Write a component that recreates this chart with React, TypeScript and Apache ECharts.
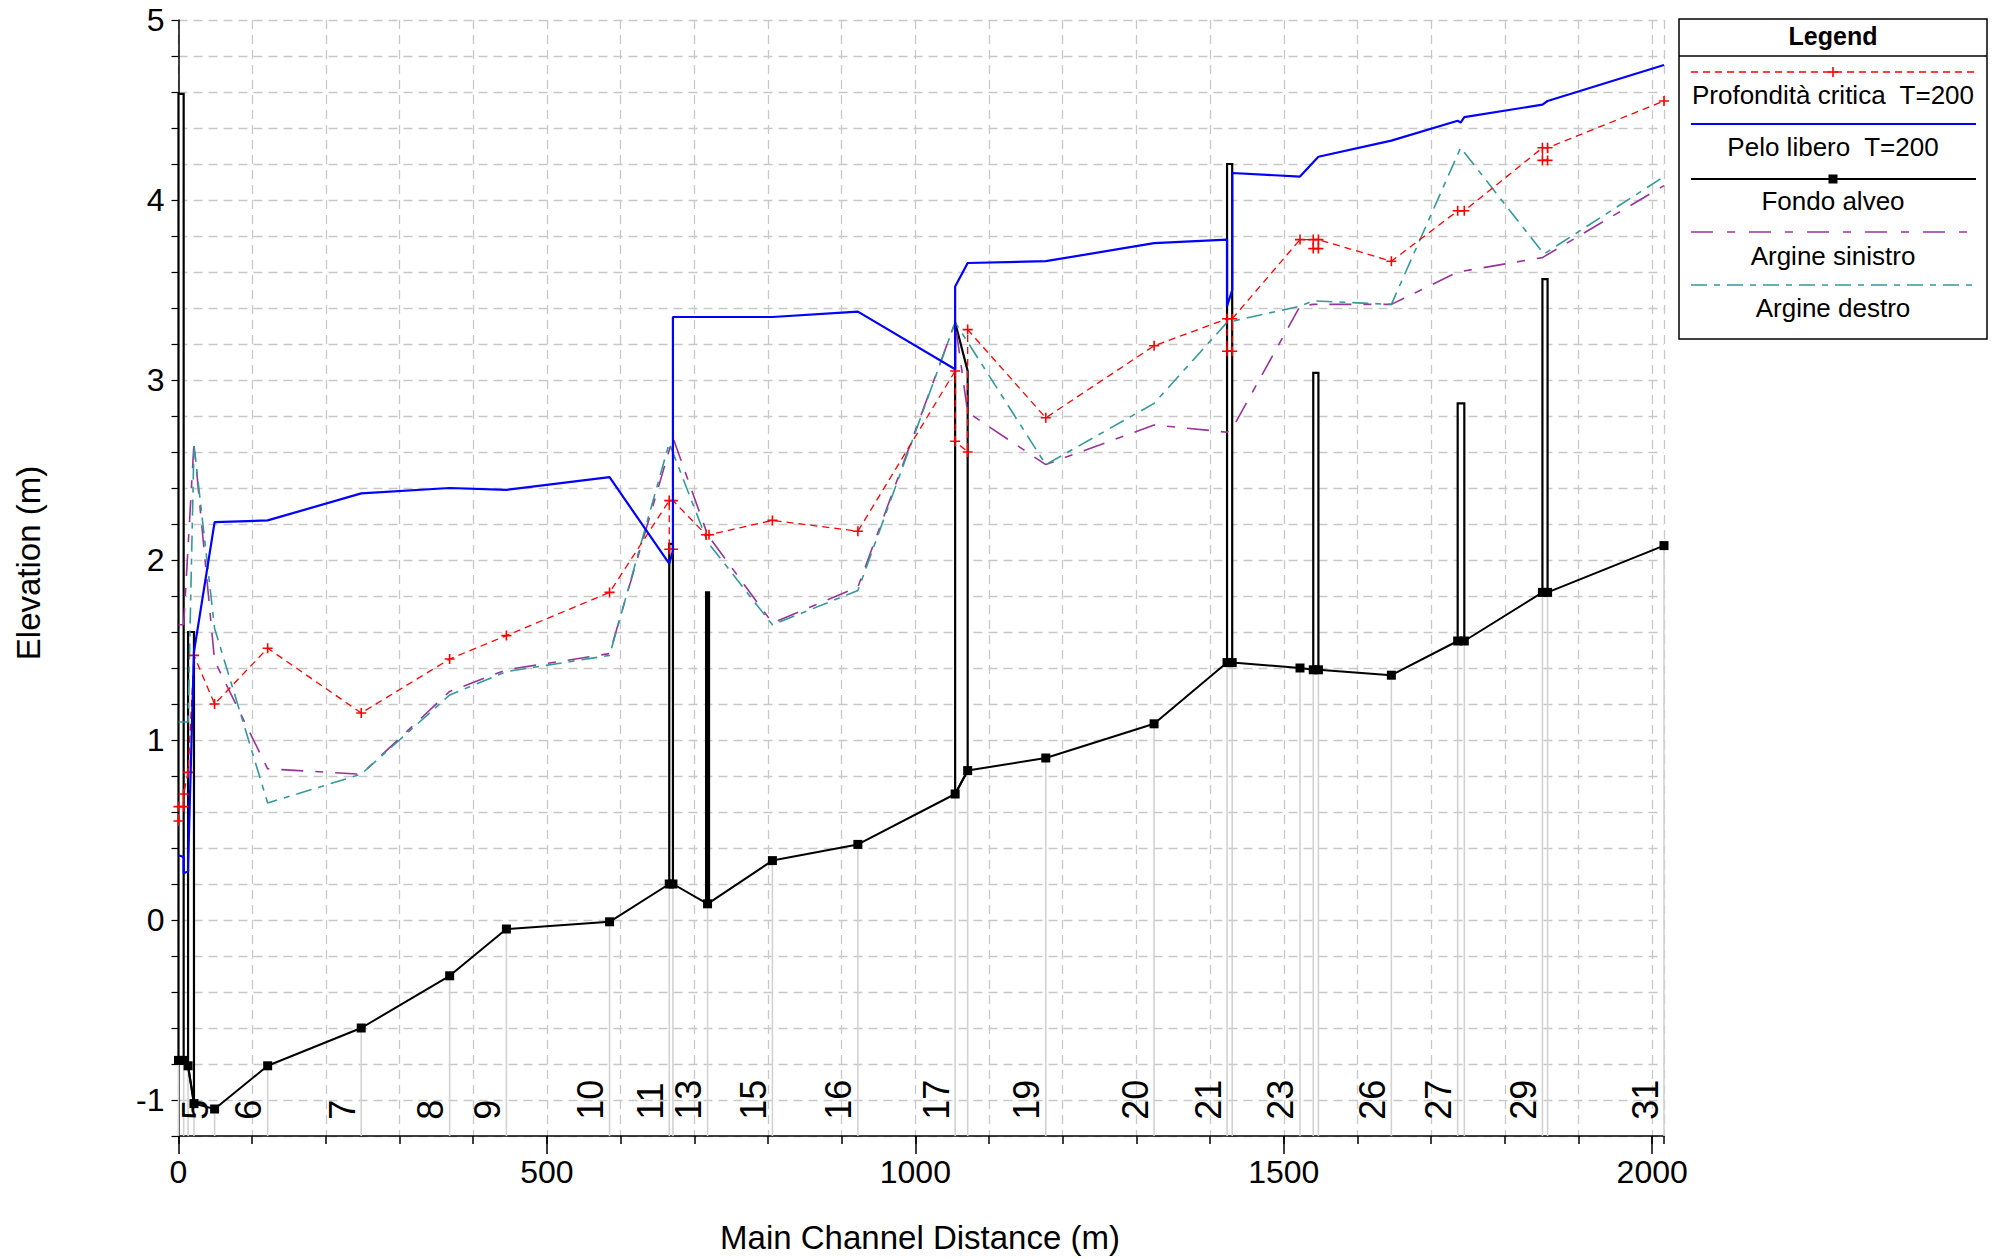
import React, { useEffect, useRef } from "react";
import * as echarts from "echarts";

const FONT = "'Liberation Sans', Arial, Helvetica, sans-serif";

// ---- axis ranges / ticks ----
const X_MIN = 0;
const X_MAX = 2016;
const Y_MIN = -1.2;
const Y_MAX = 5;
const xMajorTicks = [0, 500, 1000, 1500, 2000];
const yTickLabels = [-1, 0, 1, 2, 3, 4, 5];

// ---- Fondo alveo (channel bed) ----
const bedProfile: number[][] = [
  [0, -0.78], [7, -0.78], [13, -0.81], [21, -1.02], [49, -1.05], [121, -0.81],
  [248, -0.6], [368, -0.31], [445, -0.05], [585, -0.01], [666, 0.2], [671, 0.2],
  [718, 0.09], [806, 0.33], [922, 0.42], [1054, 0.7], [1071, 0.83], [1177, 0.9],
  [1324, 1.09], [1423, 1.43], [1430, 1.43], [1522, 1.4], [1540, 1.39], [1547, 1.39],
  [1646, 1.36], [1736, 1.55], [1745, 1.55], [1851, 1.82], [1858, 1.82], [2016, 2.08],
];

// ---- Pelo libero T=200 (water surface) ----
const waterSurface: number[][] = [
  [0, 0.36], [7, 0.35], [7, 0.26], [13, 0.27], [13, 0.3], [21, 1.49], [49, 2.21],
  [121, 2.22], [248, 2.37], [368, 2.4], [445, 2.39], [585, 2.46], [666, 1.98],
  [671, 2.05], [671, 3.35], [806, 3.35], [922, 3.38], [1054, 3.06], [1054, 3.52],
  [1071, 3.65], [1177, 3.66], [1324, 3.76], [1423, 3.78], [1423, 3.41], [1430, 3.5],
  [1430, 4.15], [1522, 4.13], [1540, 4.21], [1547, 4.24], [1646, 4.33], [1736, 4.44],
  [1740, 4.43], [1745, 4.46], [1851, 4.53], [1858, 4.55], [2016, 4.75],
];

// ---- Profondità critica T=200 (critical depth) ----
const criticalDepth: number[][] = [
  [0, 0.55], [0, 0.63], [7, 0.63], [7, 0.7], [13, 0.82], [21, 1.47], [49, 1.2],
  [121, 1.51], [248, 1.15], [368, 1.45], [445, 1.58], [585, 1.82], [666, 2.33],
  [666, 2.06], [671, 2.06], [671, 2.33], [716, 2.14], [720, 2.14], [806, 2.22],
  [922, 2.16], [1054, 3.05], [1054, 2.66], [1071, 2.6], [1071, 3.28], [1177, 2.79],
  [1324, 3.19], [1423, 3.34], [1423, 3.16], [1430, 3.16], [1430, 3.34], [1522, 3.78],
  [1540, 3.78], [1540, 3.73], [1547, 3.73], [1547, 3.78], [1646, 3.66], [1736, 3.94],
  [1745, 3.94], [1851, 4.29], [1851, 4.22], [1858, 4.22], [1858, 4.29], [2016, 4.55],
];

// ---- Argine sinistro (left bank) ----
const leftBank: number[][] = [
  [0, 1.64], [7, 1.64], [21, 2.65], [49, 1.44], [121, 0.84], [248, 0.81], [368, 1.27],
  [445, 1.39], [585, 1.48], [671, 2.68], [718, 2.14], [806, 1.65], [922, 1.85],
  [1054, 3.32], [1071, 2.82], [1177, 2.53], [1324, 2.75], [1423, 2.71], [1430, 2.73],
  [1522, 3.41], [1540, 3.42], [1646, 3.42], [1736, 3.6], [1851, 3.68], [2016, 4.08],
];

// ---- Argine destro (right bank) ----
const rightBank: number[][] = [
  [0, 1.1], [7, 1.1], [13, 1.1], [21, 2.64], [49, 1.62], [121, 0.65], [248, 0.81],
  [368, 1.25], [445, 1.38], [585, 1.47], [666, 2.65], [718, 2.1], [806, 1.64],
  [922, 1.83], [1054, 3.32], [1177, 2.53], [1324, 2.87], [1423, 3.32], [1522, 3.41],
  [1540, 3.44], [1646, 3.42], [1740, 4.29], [1853, 3.7], [2016, 4.13],
];

// ---- structures: [x1, x2, bottom1, top1, top2, bottom2, solid] ----
const structures: number[][] = [
  [0, 7, -0.78, 4.59, 4.59, -0.78, 0],
  [13, 21, -0.81, 1.6, 1.6, -1.02, 0],
  [666, 671, 0.2, 2.09, 2.09, 0.2, 0],
  [716, 720, 0.09, 1.82, 1.82, 0.09, 1],
  [1054, 1071, 0.7, 3.32, 3.05, 0.83, 0],
  [1423, 1430, 1.43, 4.2, 4.2, 1.43, 0],
  [1540, 1547, 1.39, 3.04, 3.04, 1.39, 0],
  [1736, 1745, 1.55, 2.87, 2.87, 1.55, 0],
  [1851, 1858, 1.82, 3.56, 3.56, 1.82, 0],
];

// ---- river station labels ----
const stationLabelX = [49, 121, 248, 368, 445, 585, 666, 718, 806, 922, 1054, 1177, 1324, 1423, 1522, 1646, 1736, 1851, 2016];
const stationLabelText = ["5", "6", "7", "8", "9", "10", "11", "13", "15", "16", "17", "19", "20", "21", "23", "26", "27", "29", "31"];
const STATION_LABEL_Y = -1.11;

const RED = "#ff0000";
const BLUE = "#0000ff";
const PURPLE = "#993399";
const TEAL = "#339999";

const PLUS = "path://M5,0L5,10M0,5L10,5";

export default function App() {
  const ref = useRef<HTMLDivElement>(null);

  useEffect(() => {
    if (!ref.current) return;
    const chart = echarts.init(ref.current, undefined, { renderer: "svg" });

    const gridLine = { show: true, lineStyle: { color: "#c8c8c8", width: 1.3, type: [9, 6] } };

    const lineSeries = (name: string, data: number[][], color: string, width: number, dash: any, z: number, extra: any = {}) => ({
      type: "line",
      name,
      data,
      z,
      clip: false,
      symbol: "none",
      showAllSymbol: true,
      lineStyle: { color, width, type: dash },
      emphasis: { disabled: true },
      silent: true,
      ...extra,
    });

    // legend layout
    const LX1 = 1691, LX2 = 1976, LC = 1833;
    const legendItem = (y: number, color: string, width: number, dash: any) => ({
      type: "line",
      shape: { x1: LX1, y1: y, x2: LX2, y2: y },
      style: { stroke: color, lineWidth: width, lineDash: dash },
      z: 100,
    });
    const legendText = (y: number, text: string) => ({
      type: "text",
      x: LC,
      y,
      style: { text, font: `26px ${FONT}`, fill: "#000", align: "center", verticalAlign: "middle" },
      z: 100,
    });

    const option: any = {
      animation: false,
      backgroundColor: "#ffffff",
      grid: { left: 178.5, right: 331, top: 20, bottom: 122, containLabel: false },
      xAxis: [
        {
          type: "value",
          min: X_MIN,
          max: X_MAX,
          interval: 500,
          position: "bottom",
          axisLine: { show: true, onZero: false, lineStyle: { color: "#000", width: 1.5 } },
          axisTick: { show: true, length: 18, lineStyle: { color: "#000", width: 1.5 }, customValues: xMajorTicks },
          axisLabel: {
            show: true,
            customValues: xMajorTicks,
            margin: 20,
            color: "#000",
            fontSize: 32,
            fontFamily: FONT,
            formatter: (v: number) => (xMajorTicks.indexOf(v) >= 0 ? String(v) : ""),
          },
          splitLine: { show: false },
        },
        {
          type: "value",
          min: X_MIN,
          max: X_MAX,
          interval: 100,
          position: "bottom",
          axisLine: { show: false, onZero: false },
          axisTick: { show: true, length: 8, lineStyle: { color: "#000", width: 1.5 } },
          axisLabel: { show: false },
          splitLine: gridLine,
        },
      ],
      yAxis: [
        {
          type: "value",
          min: Y_MIN,
          max: Y_MAX,
          interval: 0.2,
          axisLine: { show: true, onZero: false, lineStyle: { color: "#000", width: 1.5 } },
          axisTick: { show: true, length: 7, lineStyle: { color: "#000", width: 1.2 } },
          axisLabel: {
            show: true,
            margin: 14,
            color: "#000",
            fontSize: 32,
            fontFamily: FONT,
            customValues: yTickLabels,
            formatter: (v: number) => {
              const r = Math.round(v);
              return Math.abs(v - r) < 1e-6 && yTickLabels.indexOf(r) >= 0 ? String(r) : "";
            },
          },
          splitLine: gridLine,
        },
      ],
      series: [
        {
          type: "custom",
          name: "stations",
          z: 1,
          silent: true,
          clip: false,
          data: bedProfile,
          encode: { x: 0, y: 1 },
          renderItem: (params: any, api: any) => {
            const x = api.value(0);
            const y = api.value(1);
            const p0 = api.coord([x, Y_MIN]);
            const p1 = api.coord([x, y]);
            return {
              type: "line",
              shape: { x1: p0[0], y1: p0[1], x2: p1[0], y2: p1[1] },
              style: { stroke: "#d2d2d2", lineWidth: 1.6 },
            };
          },
        },
        {
          type: "custom",
          name: "structures",
          z: 2,
          silent: true,
          clip: false,
          data: structures,
          encode: { x: [0, 1], y: [2, 3, 4, 5] },
          renderItem: (params: any, api: any) => {
            const s = structures[params.dataIndex];
            const pts = [
              [s[0], s[2]],
              [s[0], s[3]],
              [s[1], s[4]],
              [s[1], s[5]],
            ].map((p) => api.coord(p));
            return {
              type: "polygon",
              shape: { points: pts },
              style: { fill: s[6] ? "#000" : "#fff", stroke: "#000", lineWidth: 2.2 },
            };
          },
        },
        lineSeries("Argine sinistro", leftBank, PURPLE, 1.6, [22, 12, 8, 12], 3),
        lineSeries("Argine destro", rightBank, TEAL, 1.6, [16, 7, 6, 7], 3),
        lineSeries("Profondità critica  T=200", criticalDepth, RED, 1.3, [7, 5], 4, {
          symbol: PLUS,
          symbolSize: 10,
          itemStyle: { color: "rgba(0,0,0,0)", borderColor: RED, borderWidth: 1.6 },
        }),
        lineSeries("Pelo libero  T=200", waterSurface, BLUE, 2.2, "solid", 5),
        lineSeries("Fondo alveo", bedProfile, "#000", 2, "solid", 6, {
          symbol: "rect",
          symbolSize: 9,
          itemStyle: { color: "#000" },
        }),
        {
          type: "custom",
          name: "station labels",
          z: 7,
          silent: true,
          clip: false,
          data: stationLabelX.map((x) => [x, STATION_LABEL_Y]),
          encode: { x: 0, y: 1 },
          renderItem: (params: any, api: any) => {
            const p = api.coord([api.value(0), api.value(1)]);
            return {
              type: "text",
              x: p[0] - 1,
              y: p[1],
              rotation: Math.PI / 2,
              style: {
                text: stationLabelText[params.dataIndex],
                font: `36px ${FONT}`,
                fill: "#000",
                align: "left",
                verticalAlign: "bottom",
              },
            };
          },
        },
      ],
      graphic: [
        {
          type: "text",
          x: 28,
          y: 563,
          rotation: Math.PI / 2,
          style: { text: "Elevation (m)", font: `33px ${FONT}`, fill: "#000", align: "center", verticalAlign: "middle" },
        },
        {
          type: "text",
          x: 920,
          y: 1237,
          style: { text: "Main Channel Distance (m)", font: `33px ${FONT}`, fill: "#000", align: "center", verticalAlign: "middle" },
        },
        // legend box
        {
          type: "rect",
          shape: { x: 1679, y: 19, width: 308, height: 320 },
          style: { fill: "#fff", stroke: "#000", lineWidth: 1.5 },
          z: 99,
        },
        {
          type: "line",
          shape: { x1: 1679, y1: 56, x2: 1987, y2: 56 },
          style: { stroke: "#000", lineWidth: 1.3 },
          z: 100,
        },
        {
          type: "text",
          x: LC,
          y: 36,
          style: { text: "Legend", font: `bold 25px ${FONT}`, fill: "#000", align: "center", verticalAlign: "middle" },
          z: 100,
        },
        legendItem(72, RED, 1.3, [7, 5]),
        {
          type: "line",
          shape: { x1: LC - 5, y1: 72, x2: LC + 5, y2: 72 },
          style: { stroke: RED, lineWidth: 1.6 },
          z: 101,
        },
        {
          type: "line",
          shape: { x1: LC, y1: 67, x2: LC, y2: 77 },
          style: { stroke: RED, lineWidth: 1.6 },
          z: 101,
        },
        legendText(95, "Profondità critica  T=200"),
        legendItem(124, BLUE, 2.2, null),
        legendText(147, "Pelo libero  T=200"),
        legendItem(179, "#000", 2, null),
        {
          type: "rect",
          shape: { x: LC - 4.5, y: 174.5, width: 9, height: 9 },
          style: { fill: "#000" },
          z: 101,
        },
        legendText(201, "Fondo alveo"),
        legendItem(232, PURPLE, 1.6, [22, 14, 8, 14]),
        legendText(256, "Argine sinistro"),
        legendItem(285, TEAL, 1.6, [16, 7, 6, 7]),
        legendText(308, "Argine destro"),
      ],
    };

    chart.setOption(option);
    return () => chart.dispose();
  }, []);

  return (
    <div
      ref={ref}
      style={{ position: "fixed", left: 0, top: 0, width: 1995, height: 1258, background: "#fff" }}
    />
  );
}
